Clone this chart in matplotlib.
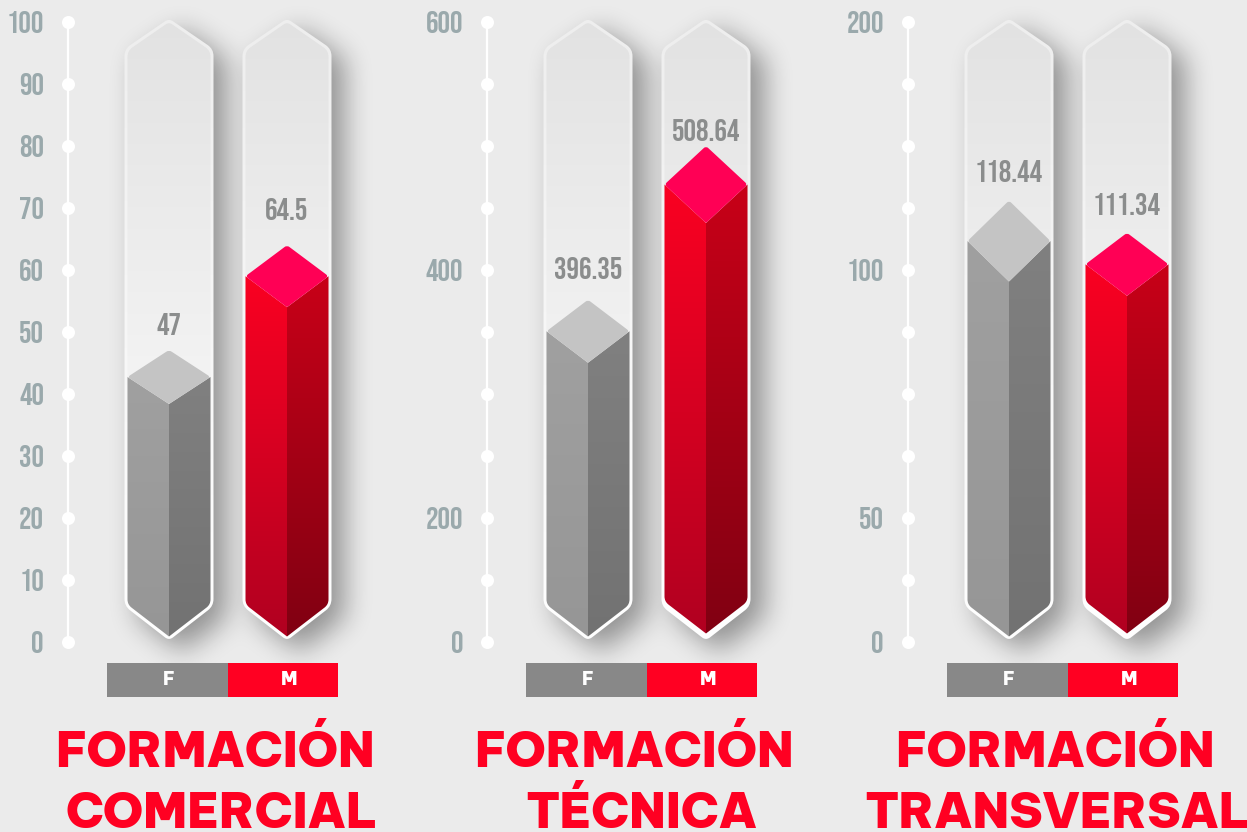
"""Three capsule column panels, female / male training figures."""
import logging

import matplotlib
matplotlib.use("Agg")
import matplotlib.pyplot as plt
import numpy as np
from matplotlib.colors import to_rgb
from matplotlib.patches import PathPatch, Rectangle
from matplotlib.path import Path

logging.getLogger("matplotlib.font_manager").setLevel(logging.ERROR)

titles = [["FORMACIÓN", "COMERCIAL"], ["FORMACIÓN", "TÉCNICA"], ["FORMACIÓN", "TRANSVERSAL"]]
value_labels = [["47", "64.5"], ["396.35", "508.64"], ["118.44", "111.34"]]
legend_labels = ["F", "M"]
tick_slots = [[0, 1, 2, 3, 4, 5, 6, 7, 8, 9, 10], [0, 2, 6, 10], [0, 2, 6, 10]]
tick_labels = [
    ["0", "10", "20", "30", "40", "50", "60", "70", "80", "90", "100"],
    ["0", "200", "400", "600"],
    ["0", "50", "100", "200"],
]
# drawn column tops, in axis-dot units (the printed scales are not linear)
col_tops = [[4.71, 6.40], [5.52, 8.0], [7.12, 6.60]]
cap_depths = [[27, 31], [31.5, 38.5], [40.5, 31.5]]
label_gaps = [[26, 36], [32, 16], [30, 29]]
foot_lifts = [[0, 0], [0, 3], [0, 3]]
axis_x = [68, 487, 908]

W, H = 1247, 832
Y0, DOT = 642, 62
BG = "#ebebeb"
RED = "#ff0022"
GREY = "#888888"
TICK_COL = "#9aa9ac"
VALUE_COL = "#8b8d8d"
COND = ["Bebas Neue", "Oswald", "Fira Sans Extra Condensed", "Barlow Condensed", "Roboto", "DejaVu Sans"]
HEAVY = ["Be Vietnam Pro", "Archivo Black", "Inter", "Lato", "DejaVu Sans"]


def dy(px):
    return px / DOT


def to_y(py):
    return (Y0 - py) / DOT


def rounded_path(pts, radii):
    """Closed path through (x, pixel-y) corners with quadratic rounded corners."""
    verts, codes = [], []
    n = len(pts)
    for i in range(n):
        p = np.array(pts[i], float)
        prev = np.array(pts[i - 1], float)
        nxt = np.array(pts[(i + 1) % n], float)
        r = radii[i]
        a = p + (prev - p) / np.linalg.norm(prev - p) * r
        b = p + (nxt - p) / np.linalg.norm(nxt - p) * r
        verts += [a, p, b]
        codes += [Path.MOVETO if i == 0 else Path.LINETO, Path.CURVE3, Path.CURVE3]
    verts.append(verts[0])
    codes.append(Path.CLOSEPOLY)
    verts = np.array(verts)
    verts[:, 1] = to_y(verts[:, 1])
    return Path(verts, codes)


def capsule_pts(cx, inset=0.0):
    hw = 44.5 - inset
    return [
        (cx, 18.5 + inset * 1.2), (cx + hw, 49 + inset * 0.6), (cx + hw, 606 - inset * 0.6),
        (cx, 640.5 - inset * 1.2), (cx - hw, 606 - inset * 0.6), (cx - hw, 49 + inset * 0.6),
    ]


def grad(ax, x0, x1, py0, py1, c0, c1, clip=None, zorder=3):
    t = np.linspace(0, 1, 128)[:, None, None]
    img = np.array(to_rgb(c0))[None, None, :] * (1 - t) + np.array(to_rgb(c1))[None, None, :] * t
    im = ax.imshow(img, extent=(x0, x1, to_y(py1), to_y(py0)), aspect="auto",
                   interpolation="bilinear", zorder=zorder)
    if clip is not None:
        im.set_clip_path(clip, transform=ax.transData)
    return im


def box_blur(a, size, axis):
    kernel = np.ones(size) / size
    return np.apply_along_axis(lambda m: np.convolve(m, kernel, mode="same"), axis, a)


def shadow_layer(centers):
    yy, xx = np.mgrid[0:H // 2, 0:W // 2]
    pts = np.column_stack([xx.ravel() * 2.0, yy.ravel() * 2.0])
    mask = np.zeros(xx.shape)
    for cx in centers:
        shifted = np.array(capsule_pts(cx + 12, 0)) + [0, 10]
        mask = np.maximum(mask, Path(shifted).contains_points(pts).reshape(xx.shape).astype(float))
    for _ in range(3):
        mask = box_blur(box_blur(mask, 13, 0), 13, 1)
    rgba = np.zeros(mask.shape + (4,))
    rgba[..., 3] = mask * 0.38
    return rgba


fig = plt.figure(figsize=(W / 100, H / 100), dpi=100, facecolor=BG)
ax = fig.add_axes([0, 0, 1, 1])
ax.set_facecolor(BG)
ax.axis("off")

centers = [x + off for x in axis_x for off in (101, 219)]
ax.imshow(shadow_layer(centers), extent=(0, W, to_y(H), to_y(0)), aspect="auto",
          interpolation="bilinear", zorder=1)

for p, x_ax in enumerate(axis_x):
    # axis line, dots and scale labels
    ax.plot([x_ax, x_ax], [0, 10], color="white", lw=1.6, zorder=2)
    ax.scatter([x_ax] * 11, np.arange(11), s=88, color="white", linewidths=0, zorder=2)
    for slot, lab in zip(tick_slots[p], tick_labels[p]):
        ax.text(x_ax - 24, slot, lab, ha="right", va="center", color=TICK_COL,
                fontsize=22.5, family=COND, zorder=2)

    for b in range(2):
        cx = x_ax + (101, 219)[b]
        male = b == 1
        outer = rounded_path(capsule_pts(cx), [5, 7, 7, 5, 7, 7])
        inner = rounded_path(capsule_pts(cx, 3), [4, 6, 6, 4, 6, 6])
        grad(ax, cx - 46, cx + 46, 15, 645, "#eeeeee", "#ffffff", outer, 3)
        grad(ax, cx - 46, cx + 46, 15, 400, "#e2e2e2", "#f4f4f4", inner, 4)

        top = Y0 - col_tops[p][b] * DOT
        depth = cap_depths[p][b]
        hw = 41.5
        foot = 636.5 - foot_lifts[p][b]
        mid, front = top + depth, top + 2 * depth
        # faces run down into the pointed foot of the capsule
        left = rounded_path([(cx - hw, mid), (cx, front), (cx, foot), (cx - hw, foot - 32)], [0, 0, 0, 5])
        right = rounded_path([(cx + hw, mid), (cx, front), (cx, foot), (cx + hw, foot - 32)], [0, 0, 0, 5])
        faces = [("#fa0022", "#b00020", "#c80018", "#800012"), ("#a0a0a0", "#969696", "#808080", "#727272")]
        lc0, lc1, rc0, rc1 = faces[0] if male else faces[1]
        for face, c0, c1 in ((left, lc0, lc1), (right, rc0, rc1)):
            im = grad(ax, cx - hw - 1, cx + hw + 1, mid, 640, c0, c1, None, 5)
            patch = PathPatch(face, transform=ax.transData, fc="none", ec="none")
            ax.add_patch(patch)
            im.set_clip_path(patch)
        diamond = rounded_path([(cx, top), (cx + hw, mid), (cx, front), (cx - hw, mid)], [3, 3, 1, 3])
        ax.add_patch(PathPatch(diamond, fc="#ff0055" if male else "#c4c4c4", ec="none", zorder=6))
        ax.text(cx, to_y(top - label_gaps[p][b]), value_labels[p][b], ha="center", va="center",
                color=VALUE_COL, fontsize=22.5, family=COND, zorder=7)

    # legend strip
    lx = x_ax + 39
    ax.add_patch(Rectangle((lx, to_y(697)), 121, dy(34), fc=GREY, ec="none", zorder=2))
    ax.add_patch(Rectangle((lx + 121, to_y(697)), 110, dy(34), fc=RED, ec="none", zorder=2))
    for lab, tx in zip(legend_labels, (lx + 62, lx + 182)):
        ax.text(tx, to_y(680), lab, ha="center", va="center", color="white", fontsize=13,
                family=HEAVY, fontweight=900, zorder=3)

    # panel title
    for line, py, shift in zip(titles[p], (767, 828), (147, (154, 154, 150)[p])):
        ax.text(x_ax + shift, to_y(py), line, ha="center", va="baseline", color=RED, fontsize=34.8,
                family=HEAVY, fontweight=900, zorder=3)

ax.set_xlim(0, W)
ax.set_ylim(to_y(H), to_y(0))
fig.savefig("out.png", dpi=100, facecolor=BG)
